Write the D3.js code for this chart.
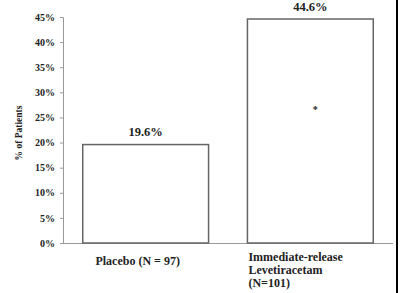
<!DOCTYPE html>
<html><head><meta charset="utf-8">
<script src="https://cdn.jsdelivr.net/npm/d3@7"></script>
<style>
html,body{margin:0;padding:0;background:#fff;}
svg{display:block;}
text{font-family:"Liberation Serif","Times New Roman",serif;fill:#222;}
</style></head>
<body>
<script>
const categories = ["Placebo (N = 97)", "Immediate-release Levetiracetam (N=101)"];
const categoryLines = [["Placebo (N = 97)"], ["Immediate-release", "Levetiracetam", "(N=101)"]];
const values = [19.6, 44.6];
const valueLabels = ["19.6%", "44.6%"];
const yTicks = [0, 5, 10, 15, 20, 25, 30, 35, 40, 45];
const markers = ["", "*"];
const yTitle = "% of Patients";

const W = 400, H = 293;
const svg = d3.select("body").append("svg").attr("width", W).attr("height", H);

const x0 = 63, x1 = 393, yBottom = 243, yTop = 17;
const y = d3.scaleLinear().domain([0, 45]).range([yBottom, yTop]);
const x = d3.scaleBand().domain(categories).range([x0, x1]).paddingInner(0.236).paddingOuter(0.12);

// y axis
const yAxis = d3.axisLeft(y).tickValues(yTicks).tickFormat(d => d + "%").tickSize(3).tickPadding(5);
const gy = svg.append("g").attr("transform", `translate(${x0},0)`).call(yAxis);
gy.select(".domain").attr("stroke", "#999").attr("stroke-width", 1);
gy.selectAll(".tick line").attr("stroke", "#999");
gy.selectAll(".tick text").attr("font-size", 10).attr("font-weight", "bold")
  .style("font-family", '"Liberation Serif", serif').attr("fill", "#333");

// x axis line
svg.append("line").attr("x1", x0).attr("x2", x1).attr("y1", yBottom + 0.5).attr("y2", yBottom + 0.5)
  .attr("stroke", "#999").attr("stroke-width", 1);

// bars
svg.selectAll("rect.bar").data(values).enter().append("rect").attr("class", "bar")
  .attr("x", (d, i) => x(categories[i]))
  .attr("y", d => y(d))
  .attr("width", x.bandwidth())
  .attr("height", d => yBottom - y(d))
  .attr("fill", "#fff").attr("stroke", "#666").attr("stroke-width", 1.5);

// value labels
svg.selectAll("text.val").data(values).enter().append("text").attr("class", "val")
  .attr("x", (d, i) => x(categories[i]) + x.bandwidth() / 2)
  .attr("y", d => y(d) - 8.5)
  .attr("text-anchor", "middle").attr("font-size", 12.5).attr("font-weight", "bold")
  .text((d, i) => valueLabels[i]);

// markers
svg.selectAll("text.mk").data(values).enter().append("text").attr("class", "mk")
  .attr("x", (d, i) => x(categories[i]) + x.bandwidth() / 2 + 5)
  .attr("y", d => y(d * 0.6) + 4)
  .attr("text-anchor", "middle").attr("font-size", 10).attr("font-weight", "bold")
  .text((d, i) => markers[i]);

// category labels
categoryLines.forEach((lines, i) => {
  const t = svg.append("text").attr("font-size", 12).attr("font-weight", "bold");
  if (lines.length === 1) {
    t.attr("x", x(categories[i]) + x.bandwidth() / 2 - 8).attr("y", 265).attr("text-anchor", "middle").text(lines[0]);
  } else {
    lines.forEach((l, j) => {
      t.append("tspan").attr("x", x(categories[i]) + 1).attr("y", 261 + j * 13).text(l);
    });
  }
});

// y title
svg.append("text").attr("transform", `translate(22,${(yTop + yBottom) / 2 + 3}) rotate(-90)`)
  .attr("text-anchor", "middle").attr("font-size", 9.5).attr("font-weight", "bold").text(yTitle);

// right border line
svg.append("line").attr("x1", 397).attr("x2", 397).attr("y1", 0).attr("y2", H)
  .attr("stroke", "#000").attr("stroke-width", 2);
</script>
</body></html>
